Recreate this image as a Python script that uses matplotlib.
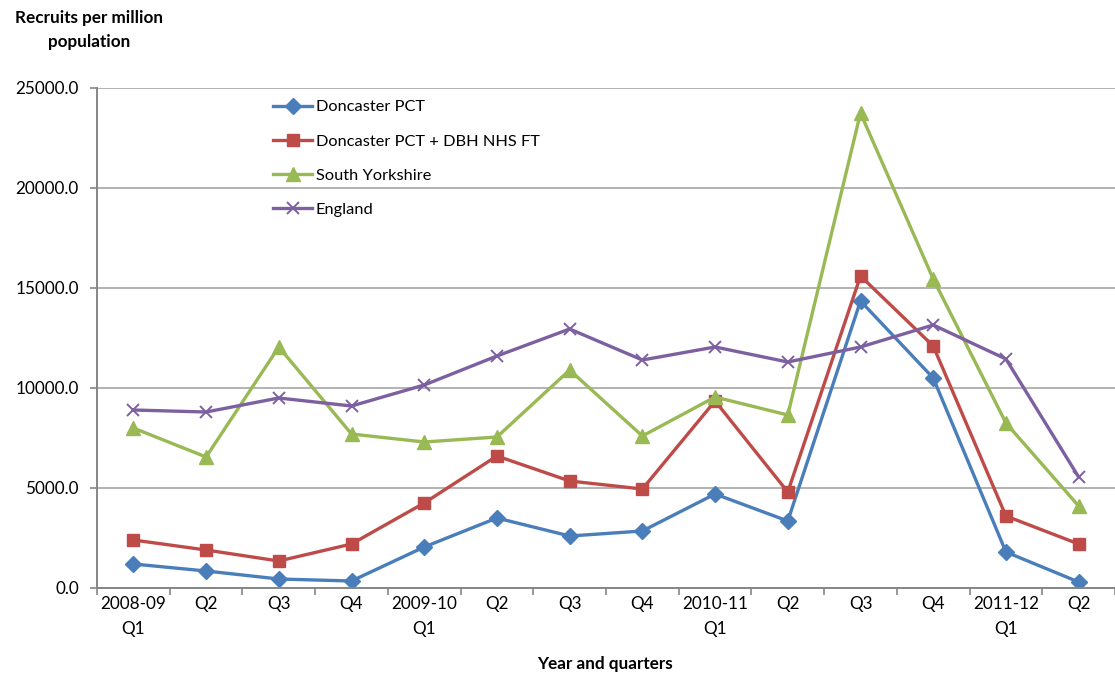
import matplotlib

matplotlib.use("Agg")
import matplotlib.pyplot as plt
import numpy as np
from matplotlib.ticker import FixedLocator, FuncFormatter

plt.rcParams["font.family"] = ["Lato", "DejaVu Sans"]

# Quarterly recruitment rates, 2008-09 Q1 to 2011-12 Q2
QUARTERS = [
    "2008-09\nQ1", "Q2", "Q3", "Q4",
    "2009-10\nQ1", "Q2", "Q3", "Q4",
    "2010-11\nQ1", "Q2", "Q3", "Q4",
    "2011-12\nQ1", "Q2",
]
doncaster_pct = [1200, 850, 450, 350, 2050, 3500, 2600, 2850, 4700, 3350, 14350, 10500, 1800, 300]
doncaster_dbh = [2400, 1900, 1350, 2200, 4250, 6600, 5350, 4950, 9350, 4800, 15600, 12100, 3600, 2200]
south_yorkshire = [8000, 6550, 12050, 7700, 7300, 7550, 10900, 7600, 9550, 8650, 23750, 15450, 8250, 4100]
england = [8900, 8800, 9500, 9100, 10150, 11600, 12950, 11400, 12050, 11300, 12050, 13150, 11450, 5550]

SERIES = [
    ("Doncaster PCT", doncaster_pct, "#4a7ebb", "D", 8),
    ("Doncaster PCT + DBH NHS FT", doncaster_dbh, "#be4b48", "s", 8.5),
    ("South Yorkshire", south_yorkshire, "#98b954", "^", 9.5),
    ("England", england, "#7d60a0", "x", 9),
]

GRID = "#a6a6a6"
AXIS = "#868686"
FS = 12.3

W, H = 1115, 675
fig = plt.figure(figsize=(W / 100, H / 100), dpi=100)
ax = fig.add_axes([97 / W, 1 - 588 / H, 1018 / W, 500 / H])

x = np.arange(len(QUARTERS))
for name, vals, color, marker, ms in SERIES:
    kw = dict(markeredgewidth=1.4) if marker == "x" else dict(markeredgecolor=color)
    ax.plot(x, vals, color=color, linewidth=2.4, marker=marker, markersize=ms,
            label=name, solid_joinstyle="round", **kw)

ax.set_xlim(-0.5, len(QUARTERS) - 0.5)
ax.set_ylim(0, 25000)
ax.set_yticks(np.arange(0, 25001, 5000))
ax.yaxis.set_major_formatter(FuncFormatter(lambda v, _: f"{v:.1f}"))
ax.grid(axis="y", color=GRID, linewidth=1.2)
ax.set_axisbelow(True)

ax.set_xticks(x)
ax.set_xticklabels(QUARTERS, linespacing=1.7)
ax.xaxis.set_minor_locator(FixedLocator(np.arange(-0.5, len(QUARTERS), 1.0)))
ax.tick_params(axis="x", which="major", length=0, pad=6, labelsize=FS)
ax.tick_params(axis="x", which="minor", length=5, width=1.2, color=AXIS, direction="out")
ax.tick_params(axis="y", length=5, width=1.2, color=AXIS, pad=8, labelsize=FS)

for side in ("top", "right"):
    ax.spines[side].set_visible(False)
for side in ("left", "bottom"):
    ax.spines[side].set_color(AXIS)
    ax.spines[side].set_linewidth(1.4)

fig.legend(loc="upper left", bbox_to_anchor=(273 / W, 1 - 100 / H), frameon=False,
           fontsize=11.8, labelspacing=1.2, handlelength=2.4, handletextpad=0.2,
           borderpad=0, borderaxespad=0)

fig.text(89 / W, 1 - 30 / H, "Recruits per million\npopulation", ha="center", va="center",
         multialignment="center", fontsize=FS, fontweight="bold", linespacing=1.55)
fig.text(605 / W, 1 - 664 / H, "Year and quarters", ha="center", va="center",
         fontsize=FS, fontweight="bold")

fig.savefig("out.png", dpi=100)
